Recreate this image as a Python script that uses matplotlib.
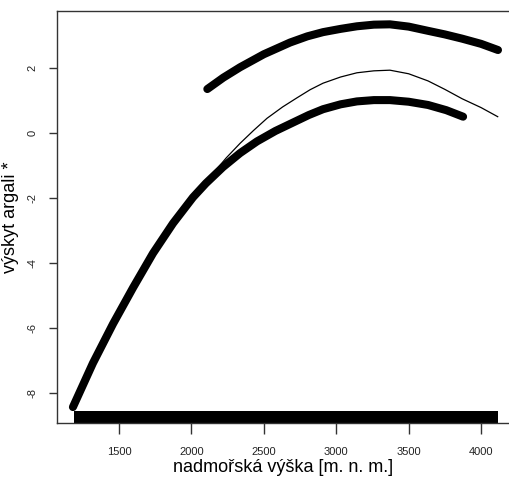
import matplotlib
matplotlib.use("Agg")
import matplotlib.pyplot as plt

plt.rcParams['font.family'] = ['Liberation Sans', 'DejaVu Sans']

# fitted curve (thick, lower)
fit_x = [1182, 1320, 1459, 1597, 1735, 1873, 2011, 2100, 2218, 2336, 2453,
         2580, 2702, 2810, 2909, 3030, 3143, 3260, 3371, 3500, 3634, 3760, 3876]
fit_y = [-8.43, -7.08, -5.87, -4.76, -3.70, -2.78, -1.98, -1.55, -1.05, -0.62, -0.26,
         0.06, 0.32, 0.55, 0.73, 0.88, 0.97, 1.01, 1.01, 0.96, 0.86, 0.70, 0.50]

# upper band (thick)
up_x = [2110, 2220, 2336, 2500, 2681, 2800, 2909, 3030, 3143, 3260, 3371,
        3500, 3634, 3750, 3869, 4000, 4117]
up_y = [1.35, 1.70, 2.02, 2.42, 2.78, 2.97, 3.10, 3.20, 3.28, 3.33, 3.34,
        3.27, 3.14, 3.03, 2.90, 2.74, 2.55]

# thin curve
thin_x = [1182, 1320, 1459, 1597, 1735, 1873, 2011, 2080, 2149, 2240, 2336,
          2430, 2522, 2630, 2729, 2820, 2909, 3030, 3143, 3260, 3371, 3500,
          3634, 3750, 3870, 4000, 4115]
thin_y = [-8.43, -7.08, -5.87, -4.76, -3.70, -2.78, -1.98, -1.62, -1.25, -0.77, -0.32,
          0.08, 0.45, 0.80, 1.08, 1.33, 1.53, 1.72, 1.85, 1.91, 1.93, 1.82,
          1.60, 1.34, 1.05, 0.78, 0.50]

# range of observed altitudes (rug)
rug_range = [1190, 4114]

xticks = [1500, 2000, 2500, 3000, 3500, 4000]
yticks = [-8, -6, -4, -2, 0, 2]

fig = plt.figure(figsize=(5.09, 4.79), dpi=100)
ax = fig.add_axes([57 / 509, 56 / 479, 1 - 57 / 509, (423 - 11) / 479])

ax.plot(fit_x, fit_y, color="black", lw=5.8,
        solid_capstyle="round", solid_joinstyle="round")
ax.plot(up_x, up_y, color="black", lw=5.8,
        solid_capstyle="round", solid_joinstyle="round")
ax.plot(thin_x, thin_y, color="black", lw=0.9, solid_joinstyle="round")

ax.fill_between(rug_range, 0, 0.03, color="black",
                transform=ax.get_xaxis_transform(), lw=0)

ax.set_xlim(1072, 4193)
ax.set_ylim(-8.92, 3.75)

ax.spines['right'].set_visible(False)
for s in ['left', 'bottom', 'top']:
    ax.spines[s].set_color("#333333")
    ax.spines[s].set_linewidth(1.0)

ax.set_xticks(xticks)
ax.set_yticks(yticks)
ax.set_yticklabels([str(t) for t in yticks], rotation=90, va="center")
ax.tick_params(axis="both", length=8, width=1, color="#333333",
               labelsize=8, labelcolor="#222222", pad=9)
ax.tick_params(axis="y", length=6, pad=8)

ax.set_xlabel("nadmořská výška [m. n. m.]", fontsize=13, labelpad=2)
ax.set_ylabel("výskyt argali *", fontsize=13, labelpad=6)

fig.savefig("out.png", dpi=100)
